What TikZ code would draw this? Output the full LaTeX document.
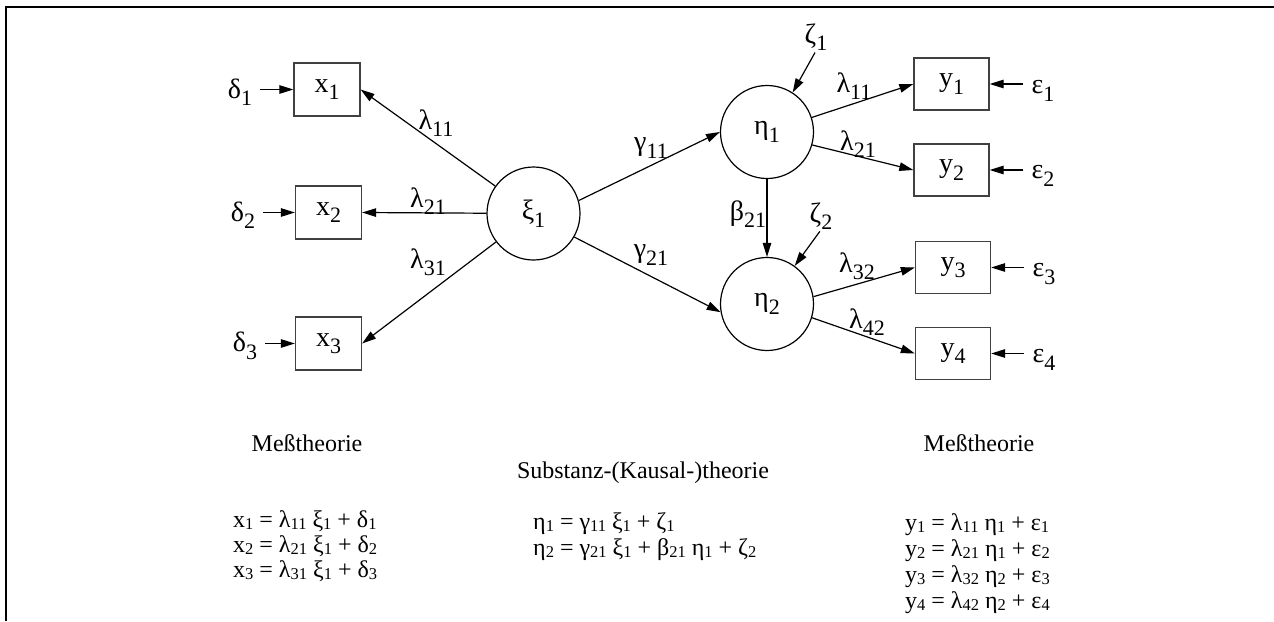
\documentclass[tikz,border=0pt]{standalone}
\usepackage{fontspec}
\setmainfont{Liberation Serif}
\usetikzlibrary{arrows.meta}
\newcommand\lb[2]{#1\raisebox{-7.5pt}{\fontsize{22}{22}\selectfont #2}}
\newcommand\es[1]{\raisebox{-2pt}{\fontsize{16.5}{16.5}\selectfont #1}}
\begin{document}
\begin{tikzpicture}[x=1pt,y=-1pt,
  every node/.style={inner sep=0pt},
  dfont/.style={font=\fontsize{28}{30}\selectfont},
  obs/.style={draw=black!75, line width=1.3pt, minimum width=66pt, minimum height=53pt, dfont},
  obsy/.style={obs, minimum width=75pt, minimum height=52pt},
  latent/.style={circle, draw, line width=1.2pt, minimum size=93pt, dfont},
  lab/.style={dfont},
  arr/.style={-{Triangle[length=14pt,width=8.5pt]}, line width=1.2pt},
  txt/.style={font=\fontsize{24}{25}\selectfont},
  eq/.style={txt, anchor=base west}]
\useasboundingbox (0,0) rectangle (1274,621);
\draw[line width=2.5pt] (6,621) -- (6,7) -- (1274,7);

% observed x
\node[obs] (x1) at (327,89.5) {\lb{x}{1}};
\node[obs] (x2) at (328.5,212.5) {\lb{x}{2}};
\node[obs] (x3) at (328.5,343.5) {\lb{x}{3}};
% latent
\node[latent] (xi) at (533.5,213.5) {\lb{ξ}{1}};
\node[latent] (eta1) at (767,132) {\lb{η}{1}};
\node[latent] (eta2) at (767,304) {\lb{η}{2}};
% observed y
\node[obsy] (y1) at (951.5,84) {\lb{y}{1}};
\node[obsy] (y2) at (951.5,170) {\lb{y}{2}};
\node[obsy] (y3) at (953,267.5) {\lb{y}{3}};
\node[obsy] (y4) at (953,353.5) {\lb{y}{4}};
% error terms
\node[lab] (d1) at (240,92) {\lb{δ}{1}};
\node[lab] (d2) at (243,215) {\lb{δ}{2}};
\node[lab] (d3) at (245,346) {\lb{δ}{3}};
\node[lab] (e1) at (1043,91) {\lb{ε}{1}};
\node[lab] (e2) at (1043,176) {\lb{ε}{2}};
\node[lab] (e3) at (1044,274) {\lb{ε}{3}};
\node[lab] (e4) at (1044,360) {\lb{ε}{4}};
\node[lab] (z1) at (816,37) {\lb{ζ}{1}};
\node[lab] (z2) at (821,216) {\lb{ζ}{2}};

% connectors
\draw[arr, shorten <=8pt] (d1.east |- x1.west) -- (x1.west);
\draw[arr, shorten <=8pt] (d2.east |- x2.west) -- (x2.west);
\draw[arr, shorten <=8pt] (d3.east |- x3.west) -- (x3.west);
\draw[arr, shorten <=8pt] (e1.west |- y1.east) -- (y1.east);
\draw[arr, shorten <=8pt] (e2.west |- y2.east) -- (y2.east);
\draw[arr, shorten <=8pt] (e3.west |- y3.east) -- (y3.east);
\draw[arr, shorten <=8pt] (e4.west |- y4.east) -- (y4.east);
\draw[arr] (xi) -- (x1.east);
\draw[arr] (xi) -- (x2.east);
\draw[arr] (xi) -- (x3.east);
\draw[arr] (xi.16) -- (eta1.west);
\draw[arr] (xi.-30) -- (eta2.190);
\draw[arr] (eta1) -- (eta2);
\draw[arr] (eta1.18) -- (y1.west);
\draw[arr] (eta1.-16) -- (y2.west);
\draw[arr] (eta2.9) -- (y3.west);
\draw[arr] (eta2.-17) -- (y4.west);
\draw[arr, shorten <=2pt] (z1.south) -- (eta1.57);
\draw[arr, shorten <=2pt] (z2.south) -- (eta2.54);

% path labels
\node[lab] (l11) at (436,123) {\lb{λ}{11}};
\node[lab] (l21) at (428,201) {\lb{λ}{21}};
\node[lab] (l31) at (428,262) {\lb{λ}{31}};
\node[lab] (g11) at (651,148) {\lb{γ}{11}};
\node[lab] (g21) at (651,255) {\lb{γ}{21}};
\node[lab] (b21) at (748,214) {\lb{β}{21}};
\node[lab] (ly11) at (854,86) {\lb{λ}{11}};
\node[lab] (ly21) at (858,144) {\lb{λ}{21}};
\node[lab] (ly32) at (857,266) {\lb{λ}{32}};
\node[lab] (ly42) at (867,322) {\lb{λ}{42}};

% captions
\node[txt, anchor=base] (m1) at (307,451) {Meßtheorie};
\node[txt, anchor=base] (m2) at (979,451) {Meßtheorie};
\node[txt, anchor=base] (st) at (643,478) {Substanz-(Kausal-)theorie};

% equations
\node[eq] (ex1) at (233,527) {x\es{1} = λ\es{11} ξ\es{1} + δ\es{1}};
\node[eq] (ex2) at (233,552) {x\es{2} = λ\es{21} ξ\es{1} + δ\es{2}};
\node[eq] (ex3) at (233,577) {x\es{3} = λ\es{31} ξ\es{1} + δ\es{3}};
\node[eq] (en1) at (533,529) {η\es{1} = γ\es{11} ξ\es{1} + ζ\es{1}};
\node[eq] (en2) at (533,555) {η\es{2} = γ\es{21} ξ\es{1} + β\es{21} η\es{1} + ζ\es{2}};
\node[eq] (ey1) at (905,530) {y\es{1} = λ\es{11} η\es{1} + ε\es{1}};
\node[eq] (ey2) at (905,556) {y\es{2} = λ\es{21} η\es{1} + ε\es{2}};
\node[eq] (ey3) at (905,582) {y\es{3} = λ\es{32} η\es{2} + ε\es{3}};
\node[eq] (ey4) at (905,608) {y\es{4} = λ\es{42} η\es{2} + ε\es{4}};
\end{tikzpicture}
\end{document}
